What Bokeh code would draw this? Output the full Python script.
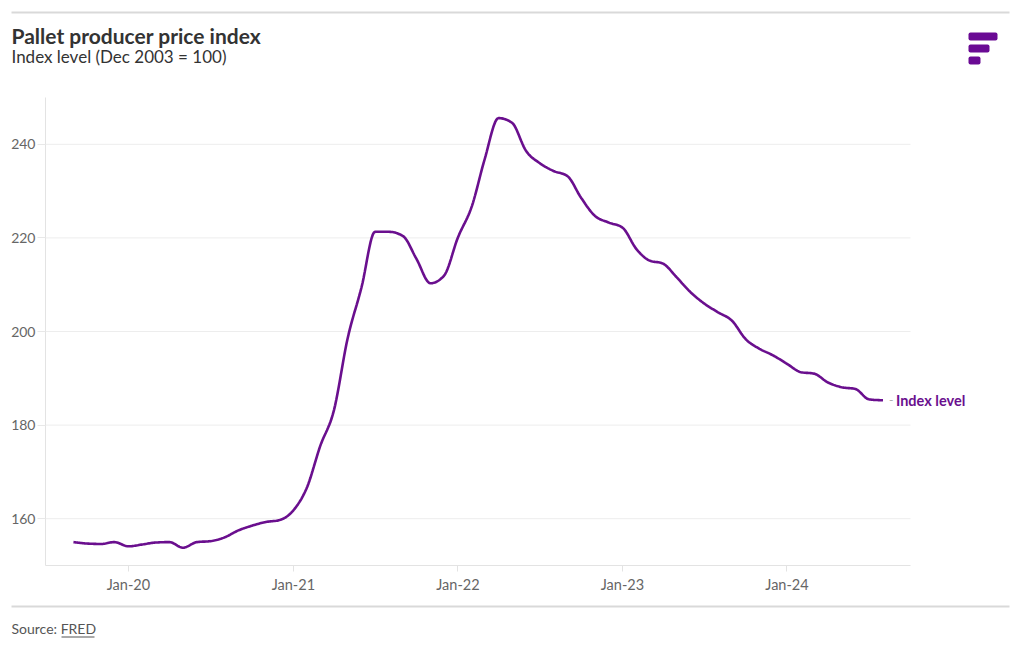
import numpy as np
import pandas as pd
from bokeh.plotting import figure
from bokeh.layouts import column
from bokeh.models import (Range1d, FixedTicker, DatetimeTickFormatter, Label,
                          BoxAnnotation, ColumnDataSource)
from bokeh.embed import file_html
from bokeh.resources import INLINE

# ---- data (monthly, Sep 2019 .. Aug 2024) ----
start_month = "2019-09-01"
values = [
    155.0, 154.7, 154.6, 155.0,
    154.1, 154.5, 154.9, 155.0, 153.8, 155.0, 155.2, 156.0, 157.5, 158.5, 159.3, 159.7,
    161.8, 166.9, 175.4, 183.2, 198.4, 209.4, 221.3, 221.3, 220.4, 215.5, 210.3, 211.9,
    220.1, 226.8, 236.7, 245.6, 244.6, 238.6, 236.0, 234.3, 233.2, 228.6, 224.7, 223.3,
    222.2, 217.6, 215.2, 214.5, 211.6, 208.4, 206.0, 204.1, 202.3, 198.4, 196.3, 194.9,
    193.1, 191.3, 191.0, 189.1, 188.1, 187.7, 185.5, 185.3,
]
dates = pd.date_range(start_month, periods=len(values), freq="MS")
y_ticks = [160, 180, 200, 220, 240]
x_tick_years = [2020, 2021, 2022, 2023, 2024]
series_name = "Index level"
title = "Pallet producer price index"
subtitle = "Index level (Dec 2003 = 100)"
source = "Source: FRED"

PURPLE = "#6a0f8e"
LOGO = "#6a0a94"
RULE = "#d9d9d9"
FONT = "Lato"
W = 1020


def monotone(xs, ys, n=12):
    """d3 curveMonotoneX style interpolation (Fritsch-Carlson)."""
    xs = np.asarray(xs, float); ys = np.asarray(ys, float)
    h = np.diff(xs); s = np.diff(ys) / h
    m = np.zeros_like(ys)
    for i in range(1, len(ys) - 1):
        h0, h1, s0, s1 = h[i - 1], h[i], s[i - 1], s[i]
        p_ = (s0 * h1 + s1 * h0) / (h0 + h1)
        m[i] = (np.sign(s0) + np.sign(s1)) * min(abs(s0), abs(s1), 0.5 * abs(p_))
    m[0] = (3 * s[0] - m[1]) / 2
    m[-1] = (3 * s[-1] - m[-2]) / 2
    ox, oy = [], []
    for i in range(len(h)):
        t = np.linspace(0, 1, n, endpoint=False)
        h00 = 2 * t**3 - 3 * t**2 + 1
        h10 = t**3 - 2 * t**2 + t
        h01 = -2 * t**3 + 3 * t**2
        h11 = t**3 - t**2
        ox.extend(xs[i] + t * h[i])
        oy.extend(h00 * ys[i] + h10 * h[i] * m[i] + h01 * ys[i + 1] + h11 * h[i] * m[i + 1])
    ox.append(xs[-1]); oy.append(ys[-1])
    return np.array(ox), np.array(oy)


def blank(height, y0):
    """A figure whose data coordinates equal page pixels (y downward)."""
    f = figure(width=W, height=height, output_backend="svg", toolbar_location=None,
               x_range=Range1d(0, W), y_range=Range1d(y0 + height, y0),
               x_axis_location=None, y_axis_location=None,
               min_border=0)
    f.frame_align = False
    f.outline_line_color = None
    f.xgrid.visible = False
    f.ygrid.visible = False
    return f


def box(f, x0, x1, y0, y1, color, radius=0):
    f.add_layout(BoxAnnotation(left=x0, right=x1, top=y0, bottom=y1,
                               fill_color=color, fill_alpha=1, line_color=None,
                               border_radius=radius))


def text(f, x, baseline, s, size, **kw):
    # small correction for where the renderer places the alphabetic baseline
    f.add_layout(Label(x=x, y=baseline - 0.45 * size, text=s, text_font=FONT,
                       text_font_size=f"{size}px", text_baseline="alphabetic", **kw))


# ---------------- header ----------------
HEAD_H = 97
head = blank(HEAD_H, 0)
box(head, 11, 1009, 11, 13, RULE)
text(head, 11, 44, title, 21, text_font_style="bold", text_color="#333333")
text(head, 11, 64, subtitle, 17, text_color="#333333")
box(head, 968, 997, 32, 40, LOGO, 2)
box(head, 968, 989, 44, 52, LOGO, 2)
box(head, 968, 980, 56, 64, LOGO, 2)

# ---------------- main chart ----------------
ms = dates.values.astype("datetime64[ms]").astype(np.int64).astype(float)
days = ms / 86400000.0
sx, sy = monotone(days, values)
src = ColumnDataSource(dict(x=sx * 86400000.0, y=sy))

x_start = pd.Timestamp("2019-07-01").value / 1e6
x_axis_end = pd.Timestamp("2024-10-01").value / 1e6
# plot frame runs to the page edge so the end label is not clipped;
# the axis / grid stop where the reference's axis stops (865 of 975 px)
x_end = x_start + (x_axis_end - x_start) * 975.0 / 865.0

MAIN_H = 498
p = figure(width=W, height=MAIN_H, x_axis_type="datetime",
           output_backend="svg", toolbar_location=None,
           x_range=Range1d(x_start, x_end), y_range=Range1d(150, 250),
           min_border_left=45, min_border_right=0,
           min_border_top=0, min_border_bottom=29)
p.frame_align = False
p.outline_line_color = None

# horizontal grid lines, limited to the axis extent
p.xgrid.grid_line_color = None
p.ygrid.grid_line_color = None
p.segment(x0=[x_start] * len(y_ticks), x1=[x_axis_end] * len(y_ticks),
          y0=y_ticks, y1=y_ticks, line_color="#ededed", line_width=1)

p.line("x", "y", source=src, line_color=PURPLE, line_width=2.6)

p.yaxis.ticker = FixedTicker(ticks=y_ticks)
p.yaxis.axis_line_color = "#e3e3e3"
p.yaxis.major_tick_line_color = "#e8e8e8"
p.yaxis.major_tick_out = 8
p.yaxis.major_tick_in = 0
p.yaxis.minor_tick_line_color = None
p.yaxis.major_label_standoff = 2
p.yaxis.major_label_text_font = FONT
p.yaxis.major_label_text_font_size = "14px"
p.yaxis.major_label_text_color = "#666666"

xt = [pd.Timestamp(f"{y}-01-01").value // 10**6 for y in x_tick_years]
p.xaxis.ticker = FixedTicker(ticks=xt)
fmt = "%b-%y"
p.xaxis.formatter = DatetimeTickFormatter(years=fmt, months=fmt, days=fmt, hours=fmt,
                                          minutes=fmt, seconds=fmt, milliseconds=fmt,
                                          microseconds=fmt)
p.xaxis.bounds = (x_start, x_axis_end)
p.xaxis.axis_line_color = "#e3e3e3"
p.xaxis.major_tick_line_color = "#e3e3e3"
p.xaxis.major_tick_out = 6
p.xaxis.major_tick_in = 0
p.xaxis.minor_tick_line_color = None
p.xaxis.major_label_standoff = 4
p.xaxis.major_label_text_font = FONT
p.xaxis.major_label_text_font_size = "14.5px"
p.xaxis.major_label_text_color = "#666666"

# end label
p.add_layout(Label(x=dates[-1], y=values[-1], x_offset=6, text="-",
                   text_font=FONT, text_font_size="12px", text_color="#aaaaaa",
                   text_baseline="middle"))
p.add_layout(Label(x=dates[-1], y=values[-1], x_offset=13, text=series_name,
                   text_font=FONT, text_font_style="bold", text_font_size="14.5px",
                   text_color=PURPLE, text_baseline="middle"))

# ---------------- footer ----------------
FOOT_Y0 = HEAD_H + MAIN_H
foot = blank(650 - FOOT_Y0, FOOT_Y0)
box(foot, 11, 1009, 605, 607, RULE)
text(foot, 11, 634, source, 14, text_color="#555555")
box(foot, 61, 94, 636, 637, "#555555")

layout = column(head, p, foot, spacing=0)
open("out.html", "w").write(file_html(layout, INLINE))
